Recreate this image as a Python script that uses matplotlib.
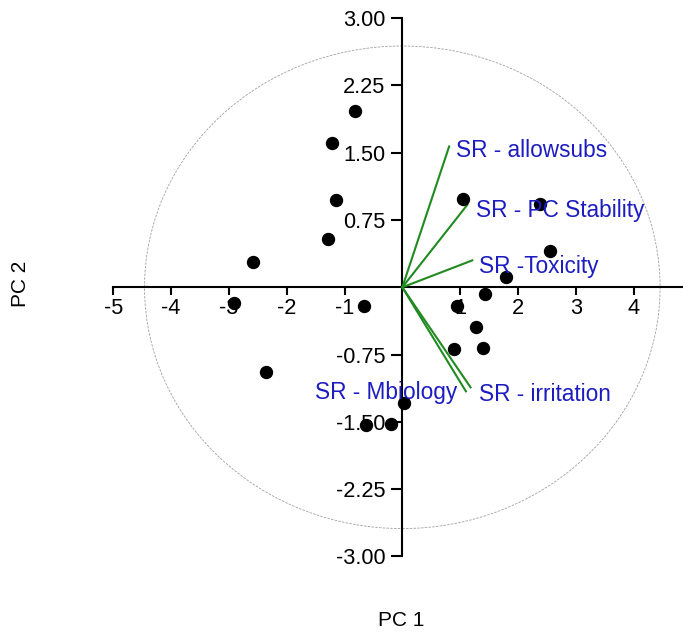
"""
PCA biplot: sample scores on PC 1 / PC 2 with SR loading vectors.
"""

import matplotlib
matplotlib.use("Agg")
import matplotlib.pyplot as plt
from matplotlib.patches import Ellipse

plt.rcParams["font.family"] = ["Liberation Sans", "DejaVu Sans"]
plt.rcParams["axes.unicode_minus"] = False

# sample scores
score_x = [-0.81, -1.22, -1.14, -1.28, -2.58, -2.91, -0.66, -2.35, 0.035, -0.63,
           -0.195, 0.94, 1.27, 0.90, 1.40, 1.43, 1.05, 2.39, 2.56, 1.79]
score_y = [1.97, 1.61, 0.97, 0.54, 0.285, -0.17, -0.205, -0.94, -1.29, -1.54,
           -1.52, -0.205, -0.44, -0.69, -0.68, -0.07, 0.98, 0.93, 0.41, 0.11]

# loading vectors (scaled)
load_names = ["SR - allowsubs", "SR - PC Stability", "SR -Toxicity", "SR - Mbiology", "SR - irritation"]
load_x = [0.81, 1.125, 1.21, 1.10, 1.18]
load_y = [1.57, 0.92, 0.30, -1.16, -1.115]

# correlation ellipse radii (data units)
circle_rx = 4.46
circle_ry = 2.69

x_ticks = [-5, -4, -3, -2, -1, 1, 2, 3, 4]
y_ticks = [3.00, 2.25, 1.50, 0.75, -0.75, -1.50, -2.25, -3.00]

fig = plt.figure(figsize=(6.83, 6.34), dpi=100)
ax = fig.add_axes([0.1659, 0.1224, 0.8341, 0.8489])
ax.set_xlim(-5, 4.856)
ax.set_ylim(-3, 3)

for side in ["top", "right"]:
    ax.spines[side].set_visible(False)
ax.spines["left"].set_position(("data", 0))
ax.spines["bottom"].set_position(("data", 0))
for side in ["left", "bottom"]:
    ax.spines[side].set_linewidth(1.5)

ax.set_xticks(x_ticks)
ax.set_xticklabels([str(v) for v in x_ticks])
ax.set_yticks(y_ticks)
ax.set_yticklabels([f"{v:.2f}" for v in y_ticks])
ax.tick_params(axis="x", direction="out", length=6, width=1.5, pad=2, labelsize=15.7)
ax.tick_params(axis="y", direction="out", length=7.7, width=1.5, pad=4.5, labelsize=15.7)

ax.add_patch(Ellipse((0, 0), 2 * circle_rx, 2 * circle_ry, fill=False,
                     edgecolor="#a0a0a0", linewidth=0.6, linestyle=(0, (3, 1.5))))

ax.plot(score_x, score_y, "o", color="black", markersize=8.6, zorder=4)

green = "#218a21"
blue = "#1c1cc0"
# label offsets from vector tip, in points (dx, dy, ha)
label_offsets = [(5.3, -7.6, "left"), (6, -8.6, "left"), (5, -9, "left"),
                 (-6, -5.3, "right"), (6, -9.6, "left")]
for name, lx, ly, (dx, dy, ha) in zip(load_names, load_x, load_y, label_offsets):
    ax.plot([0, lx], [0, ly], color=green, linewidth=1.5, zorder=3)
    ax.annotate(name, (lx, ly), xytext=(dx, dy), textcoords="offset points",
                ha=ha, va="baseline", color=blue, fontsize=16.3, zorder=5)

fig.text(20 / 683, 1 - 284 / 634, "PC 2", rotation=90, ha="center", va="center", fontsize=15)
fig.text(401.5 / 683, 1 - 620 / 634, "PC 1", ha="center", va="center", fontsize=15)

fig.savefig("out.png", dpi=100)
